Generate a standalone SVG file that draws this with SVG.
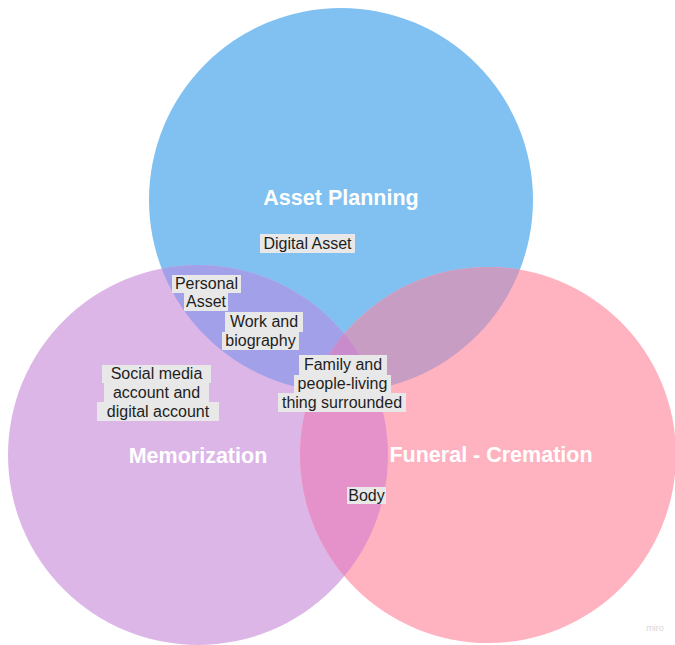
<svg xmlns="http://www.w3.org/2000/svg" width="675" height="645" viewBox="0 0 675 645">
<style>
.lbl{font-family:"Liberation Sans",Arial,sans-serif;font-size:16px;fill:#1e1e1e;text-anchor:middle}
.bg{fill:#e8e8e8}
.ttl{font-family:"Liberation Sans",Arial,sans-serif;font-size:21.5px;font-weight:bold;fill:#ffffff;text-anchor:middle}
</style>
<defs>
<clipPath id="cB"><circle cx="341" cy="200" r="192"/></clipPath>
<clipPath id="cM"><circle cx="198" cy="455" r="190"/></clipPath>
<clipPath id="cF"><circle cx="488" cy="455" r="188"/></clipPath>
</defs>
<rect width="675" height="645" fill="#ffffff"/>
<g id="asset-planning">
<circle cx="341" cy="200" r="192" fill="#80c1f2"/>
</g>
<g id="memorization">
<circle cx="198" cy="455" r="190" fill="#ddb6e8"/>
</g>
<g id="funeral-cremation">
<circle cx="488" cy="455" r="188" fill="#ffb3c0"/>
</g>
<g id="overlaps">
<g clip-path="url(#cB)"><circle cx="198" cy="455" r="190" fill="#a2a0e8"/></g>
<g clip-path="url(#cB)"><circle cx="488" cy="455" r="188" fill="#c89dc4"/></g>
<g clip-path="url(#cM)"><circle cx="488" cy="455" r="188" fill="#e592ca"/></g>
<g clip-path="url(#cB)"><g clip-path="url(#cM)"><circle cx="488" cy="455" r="188" fill="#c98bcb"/></g></g>
</g>
<g id="connectors"></g>
<g id="titles">
<text class="ttl" x="341" y="205">Asset Planning</text>
<text class="ttl" x="198" y="463">Memorization</text>
<text class="ttl" x="491" y="462">Funeral - Cremation</text>
</g>
<g id="label-digital-asset">
<rect class="bg" x="260" y="234" width="95" height="19"/>
<text class="lbl" x="307.5" y="249">Digital Asset</text>
</g>
<g id="label-personal-asset">
<rect class="bg" x="172" y="275" width="69" height="18"/>
<rect class="bg" x="184" y="293" width="44" height="18"/>
<text class="lbl" x="206.5" y="289">Personal</text>
<text class="lbl" x="206" y="307">Asset</text>
</g>
<g id="label-work">
<rect class="bg" x="225" y="312" width="78" height="20"/>
<rect class="bg" x="222" y="332" width="77" height="18"/>
<text class="lbl" x="264" y="327">Work and</text>
<text class="lbl" x="260.5" y="346">biography</text>
</g>
<g id="label-family">
<rect class="bg" x="299" y="355" width="88" height="20"/>
<rect class="bg" x="294" y="375" width="97" height="18"/>
<rect class="bg" x="278" y="393" width="128" height="19"/>
<text class="lbl" x="343" y="370">Family and</text>
<text class="lbl" x="342.5" y="389">people-living</text>
<text class="lbl" x="342" y="408">thing surrounded</text>
</g>
<g id="label-social">
<rect class="bg" x="102" y="365" width="109" height="18"/>
<rect class="bg" x="104" y="383" width="105" height="19"/>
<rect class="bg" x="97" y="402" width="122" height="19"/>
<text class="lbl" x="156.5" y="379">Social media</text>
<text class="lbl" x="156.5" y="398">account and</text>
<text class="lbl" x="158" y="417">digital account</text>
</g>
<g id="label-body">
<rect class="bg" x="347" y="487" width="39" height="17"/>
<text class="lbl" x="366.5" y="501">Body</text>
</g>
<text x="655" y="631" font-family="Liberation Sans,Arial,sans-serif" font-size="9" fill="#d8d8d8" text-anchor="middle">miro</text>
</svg>
